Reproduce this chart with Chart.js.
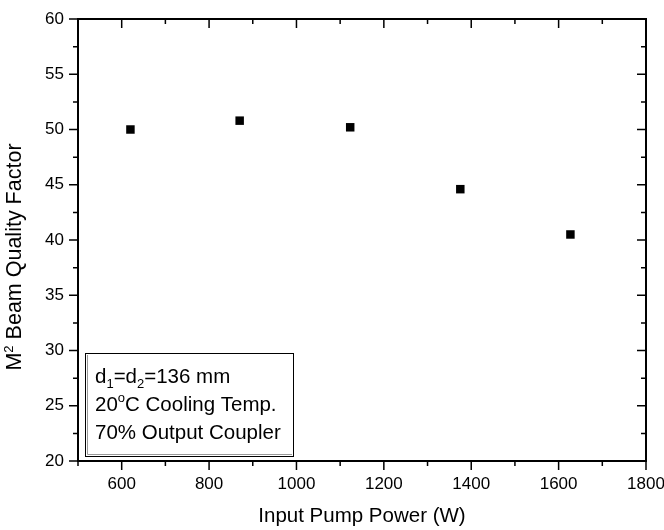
<!DOCTYPE html>
<html>
<head>
<meta charset="utf-8">
<script src="https://cdn.jsdelivr.net/npm/chart.js@4.4.0/dist/chart.umd.min.js"></script>
<style>
	html, body { margin: 0; padding: 0; background: #fff; }
	#wrap { width: 664px; height: 530px; }
</style>
</head>
<body>
<div id="wrap"><canvas id="myChart" width="664" height="530"></canvas></div>
<script>
// data
var powerW = [620, 870, 1123, 1375, 1627];
var beamQuality = [50.0, 50.8, 50.2, 44.6, 40.5];
var xTicks = [600, 800, 1000, 1200, 1400, 1600, 1800];
var yTicks = [20, 25, 30, 35, 40, 45, 50, 55, 60];

var FONT = '"Liberation Sans", Arial, sans-serif';
var BIG = 20.5, SMALL = 13;

// draw a row of text pieces, some raised or lowered (sub/superscripts)
var drawRuns = function (ctx, x, y, runs, center) {
	var w = 0;
	runs.forEach(function (r) {
		ctx.font = r.s + 'px ' + FONT;
		r.w = ctx.measureText(r.t).width;
		w += r.w;
	});
	var cx = center ? x - w / 2 : x;
	ctx.textAlign = 'left';
	ctx.textBaseline = 'alphabetic';
	runs.forEach(function (r) {
		ctx.font = r.s + 'px ' + FONT;
		ctx.fillText(r.t, cx, y + (r.dy || 0));
		cx += r.w;
	});
};

var framePlugin = {
	id: 'frame',
	afterDatasetsDraw: function (chart) {
		var ctx = chart.ctx, a = chart.chartArea;
		ctx.save();
		// note box in the lower left corner
		var bx = a.left + 7, by = a.top + 334, bw = 208, bh = 103;
		ctx.fillStyle = '#fff';
		ctx.fillRect(bx, by, bw, bh);
		ctx.strokeStyle = '#000';
		ctx.lineWidth = 1;
		ctx.strokeRect(bx + 0.5, by + 0.5, bw, bh);
		ctx.strokeStyle = '#999';
		ctx.beginPath();
		ctx.moveTo(bx + 2.5, by + 2);
		ctx.lineTo(bx + 2.5, by + bh - 1.5);
		ctx.lineTo(bx + bw - 1, by + bh - 1.5);
		ctx.stroke();
		ctx.fillStyle = '#000';
		var tx = bx + 10;
		drawRuns(ctx, tx, by + 30, [
			{t: 'd', s: BIG}, {t: '1', s: SMALL, dy: 5}, {t: '=d', s: BIG},
			{t: '2', s: SMALL, dy: 5}, {t: '=136 mm', s: BIG}
		]);
		drawRuns(ctx, tx, by + 58, [
			{t: '20', s: BIG}, {t: 'o', s: SMALL, dy: -9}, {t: 'C Cooling Temp.', s: BIG}
		]);
		drawRuns(ctx, tx, by + 86, [{t: '70% Output Coupler', s: BIG}]);
		ctx.restore();
	},
	afterDraw: function (chart) {
		var ctx = chart.ctx, a = chart.chartArea;
		var xs = chart.scales.x, ys = chart.scales.y;
		ctx.save();
		ctx.strokeStyle = '#000';
		ctx.lineWidth = 2;
		ctx.strokeRect(a.left, a.top, a.right - a.left, a.bottom - a.top);
		ctx.lineWidth = 1.5;
		ctx.beginPath();
		var v, p, len;
		for (v = xs.min; v <= xs.max; v += 100) {
			len = xTicks.indexOf(v) >= 0 ? 9 : 5;
			p = xs.getPixelForValue(v);
			ctx.moveTo(p, a.bottom); ctx.lineTo(p, a.bottom + len);
			ctx.moveTo(p, a.top); ctx.lineTo(p, a.top + len);
		}
		for (v = ys.min; v <= ys.max; v += 2.5) {
			len = yTicks.indexOf(v) >= 0 ? 9 : 5;
			p = ys.getPixelForValue(v);
			ctx.moveTo(a.left, p); ctx.lineTo(a.left - len, p);
			ctx.moveTo(a.right, p); ctx.lineTo(a.right - len, p);
		}
		ctx.stroke();
		// y axis title
		ctx.fillStyle = '#000';
		ctx.translate(14, 257);
		ctx.rotate(-Math.PI / 2);
		drawRuns(ctx, 0, 7, [
			{t: 'M', s: 21.5}, {t: '2', s: SMALL, dy: -8}, {t: ' Beam Quality Factor', s: 21.5}
		], true);
		ctx.restore();
	}
};

var ctx = document.getElementById('myChart');
var myChart = new Chart(ctx, {
	type: 'scatter',
	data: {
		datasets: [{
			label: 'M2',
			data: powerW.map(function (x, i) { return {x: x, y: beamQuality[i]}; }),
			pointStyle: 'rect',
			pointRadius: 6,
			pointHoverRadius: 6,
			backgroundColor: '#000',
			borderColor: '#000',
			borderWidth: 0,
			showLine: false
		}]
	},
	options: {
		responsive: false,
		animation: false,
		devicePixelRatio: 1,
		layout: { padding: { left: 0, right: 18, top: 19, bottom: 0 } },
		plugins: {
			legend: { display: false },
			tooltip: { enabled: false }
		},
		scales: {
			x: {
				type: 'linear',
				min: 500,
				max: 1800,
				afterBuildTicks: function (s) { s.ticks = xTicks.map(function (v) { return {value: v}; }); },
				afterFit: function (s) { s.height = 69; s.paddingLeft = 0; s.paddingRight = 0; },
				grid: { display: false, drawTicks: false },
				border: { display: false },
				ticks: {
					autoSkip: false, maxRotation: 0, padding: 13,
					color: '#000', font: { family: FONT, size: 17 },
					callback: function (v) { return String(v); }
				},
				title: {
					display: true, text: 'Input Pump Power (W)', color: '#000',
					font: { family: FONT, size: BIG }, padding: { top: 0, bottom: 1 }
				}
			},
			y: {
				type: 'linear',
				min: 20,
				max: 60,
				afterBuildTicks: function (s) { s.ticks = yTicks.map(function (v) { return {value: v}; }); },
				afterFit: function (s) { s.width = 78; s.paddingTop = 0; s.paddingBottom = 0; },
				grid: { display: false, drawTicks: false },
				border: { display: false },
				ticks: {
					autoSkip: false, padding: 14,
					color: '#000', font: { family: FONT, size: 17 },
					callback: function (v) { return String(v); }
				}
			}
		}
	},
	plugins: [framePlugin]
});
</script>
</body>
</html>
